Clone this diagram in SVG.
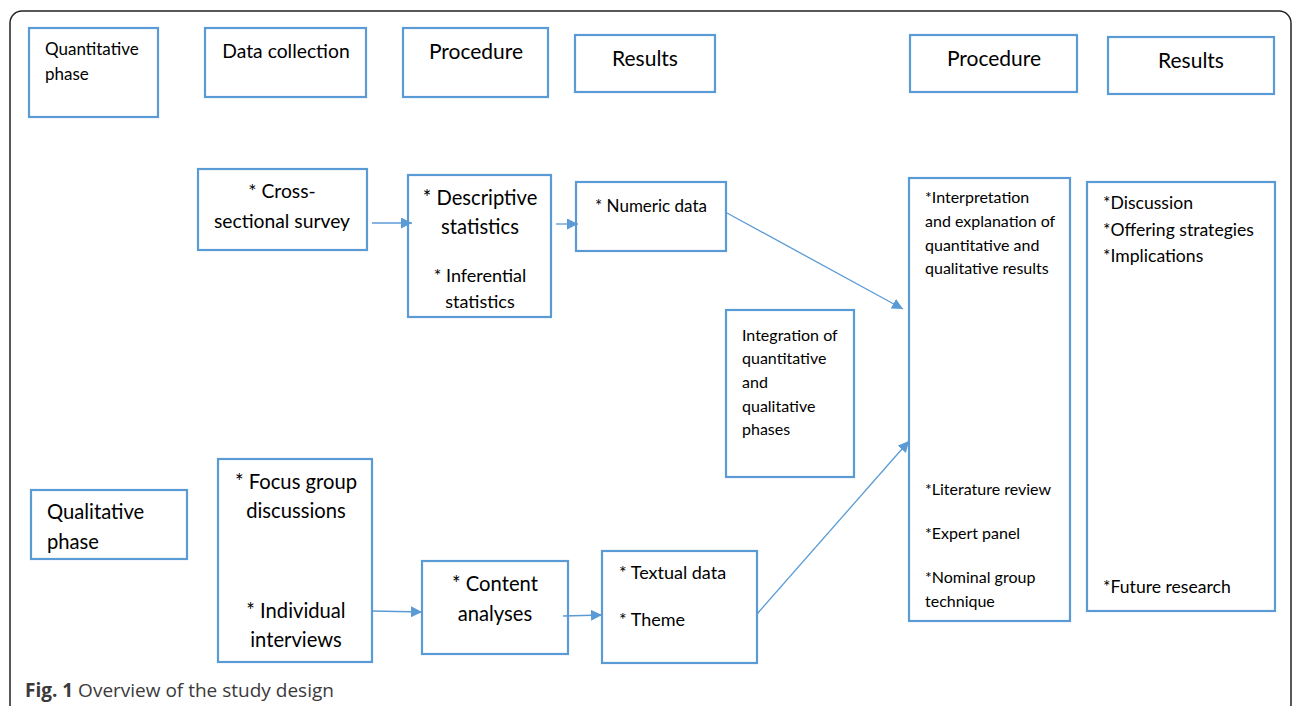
<svg xmlns="http://www.w3.org/2000/svg" width="1292" height="706" viewBox="0 0 1292 706">
<style>
.b{fill:#fff;stroke:#5b9bd5;stroke-width:2.2}
.t{font-family:Lato,"Liberation Sans",sans-serif;fill:#000}
.c{text-anchor:middle}
.ln{stroke:#5b9bd5;stroke-width:1.3;fill:none}
.cap{font-family:"Open Sans","Noto Sans",sans-serif;fill:#3a3a3a;font-size:19px}
</style>
<defs>
<marker id="ah" viewBox="0 0 10 10" refX="10" refY="5" markerWidth="11" markerHeight="11" markerUnits="userSpaceOnUse" orient="auto">
<path d="M0,0 L10,5 L0,10 z" fill="#5b9bd5"/>
</marker>
</defs>
<rect x="10" y="11" width="1281" height="730" rx="12" fill="#fff" stroke="#222" stroke-width="1.5"/>

<g id="quant-phase"><rect class="b" x="29" y="28" width="129" height="89"/>
<text class="t" font-size="17" x="45" y="55">Quantitative</text><text class="t" font-size="17" x="45" y="80">phase</text></g>
<g id="data-collection"><rect class="b" x="205" y="28" width="161" height="69"/>
<text class="t c" font-size="19.3" x="286" y="58">Data collection</text></g>
<g id="procedure1"><rect class="b" x="403" y="28" width="145" height="69"/>
<text class="t c" font-size="21" x="476" y="59">Procedure</text></g>
<g id="results1"><rect class="b" x="575" y="35" width="140" height="57"/>
<text class="t c" font-size="21" x="645" y="66">Results</text></g>
<g id="procedure2"><rect class="b" x="910" y="35" width="167" height="57"/>
<text class="t c" font-size="21" x="994" y="66">Procedure</text></g>
<g id="results2"><rect class="b" x="1108" y="37" width="166" height="57"/>
<text class="t c" font-size="21" x="1191" y="68">Results</text></g>

<g id="cross-sectional"><rect class="b" x="198" y="169" width="169" height="81"/>
<text class="t c" font-size="19.3" x="282" y="198">* Cross-</text><text class="t c" font-size="19.3" x="282" y="228">sectional survey</text></g>
<g id="statistics"><rect class="b" x="408" y="175" width="143" height="142"/>
<text class="t c" font-size="20.2" x="480" y="205">* Descriptive</text><text class="t c" font-size="20.2" x="480" y="234">statistics</text>
<text class="t c" font-size="18" x="480" y="282">* Inferential</text><text class="t c" font-size="18" x="480" y="308">statistics</text></g>
<g id="numeric"><rect class="b" x="576" y="182" width="150" height="69"/>
<text class="t c" font-size="17" x="651" y="212">* Numeric data</text></g>
<g id="integration"><rect class="b" x="726" y="310" width="128" height="167"/>
<text class="t" font-size="16" x="742" y="341">Integration of</text><text class="t" font-size="16" x="742" y="364">quantitative</text>
<text class="t" font-size="16" x="742" y="388">and</text><text class="t" font-size="16" x="742" y="412">qualitative</text><text class="t" font-size="16" x="742" y="435">phases</text></g>
<g id="interpretation"><rect class="b" x="909" y="178" width="161" height="443"/>
<text class="t" font-size="16" x="925" y="203">*Interpretation</text><text class="t" font-size="16" x="925" y="227">and explanation of</text>
<text class="t" font-size="16" x="925" y="251">quantitative and</text><text class="t" font-size="16" x="925" y="274">qualitative results</text>
<text class="t" font-size="16" x="925" y="495">*Literature review</text><text class="t" font-size="16" x="925" y="539">*Expert panel</text>
<text class="t" font-size="16" x="925" y="583">*Nominal group</text><text class="t" font-size="16" x="925" y="607">technique</text></g>
<g id="results-detail"><rect class="b" x="1087" y="182" width="188" height="429"/>
<text class="t" font-size="17.6" x="1103" y="209">*Discussion</text><text class="t" font-size="17.6" x="1103" y="236">*Offering strategies</text>
<text class="t" font-size="17.6" x="1103" y="262">*Implications</text><text class="t" font-size="17.6" x="1103" y="593">*Future research</text></g>

<g id="qual-phase"><rect class="b" x="31" y="490" width="156" height="69"/>
<text class="t" font-size="20.2" x="47" y="519">Qualitative</text><text class="t" font-size="20.2" x="47" y="549">phase</text></g>
<g id="focus-group"><rect class="b" x="218" y="459" width="154" height="203"/>
<text class="t c" font-size="20.2" x="296" y="489">* Focus group</text><text class="t c" font-size="20.2" x="296" y="518">discussions</text>
<text class="t c" font-size="20.2" x="296" y="618">* Individual</text><text class="t c" font-size="20.2" x="296" y="647">interviews</text></g>
<g id="content"><rect class="b" x="422" y="561" width="146" height="93"/>
<text class="t c" font-size="20.2" x="495" y="591">* Content</text><text class="t c" font-size="20.2" x="495" y="621">analyses</text></g>
<g id="textual"><rect class="b" x="602" y="551" width="155" height="112"/>
<text class="t" font-size="18" x="619" y="579">* Textual data</text><text class="t" font-size="18" x="619" y="626">* Theme</text></g>

<g id="connectors">
<line class="ln" x1="372" y1="223" x2="412" y2="223" marker-end="url(#ah)"/>
<line class="ln" x1="556" y1="224" x2="578" y2="224" marker-end="url(#ah)"/>
<line class="ln" x1="727" y1="213" x2="903" y2="309" marker-end="url(#ah)"/>
<line class="ln" x1="757" y1="614" x2="909" y2="441" marker-end="url(#ah)"/>
<line class="ln" x1="372" y1="611" x2="422" y2="612" marker-end="url(#ah)"/>
<line class="ln" x1="563" y1="616" x2="602" y2="615" marker-end="url(#ah)"/>
</g>
<text class="cap" x="25" y="697"><tspan font-weight="bold">Fig. 1</tspan> Overview of the study design</text>
</svg>
